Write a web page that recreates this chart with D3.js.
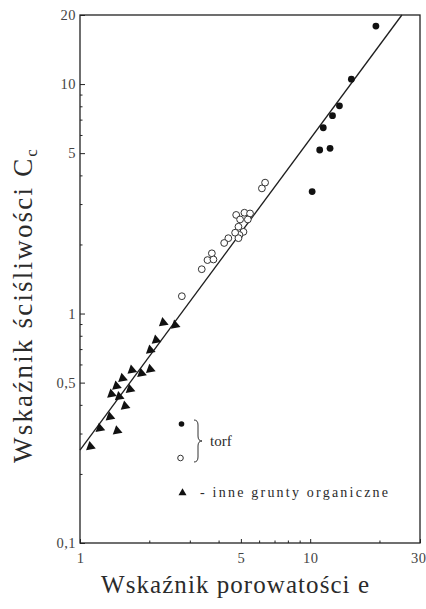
<!DOCTYPE html>
<html>
<head>
<meta charset="utf-8">
<script src="https://cdn.jsdelivr.net/npm/d3@7"></script>
<style>
  body { margin: 0; background: #fff; }
  svg text { font-family: "Liberation Serif", "DejaVu Serif", serif; fill: #2b2b2b; }
  .axis path, .axis line { stroke: #222; }
</style>
</head>
<body>
<svg id="chart"></svg>
<script>
// torf - punkty pełne
var eTorfFull  = [19.3, 15.1, 13.4, 12.5, 11.4, 11.0, 12.2, 10.2];
var ccTorfFull = [17.9, 10.5, 8.04, 7.28, 6.45, 5.16, 5.25, 3.40];
// torf - punkty puste
var eTorfOpen  = [6.37, 6.17, 4.77, 5.18, 5.48, 4.96, 5.36, 4.88, 5.13, 4.93, 4.72, 4.88, 4.41, 4.23, 3.74, 3.58, 3.80, 3.38, 2.77];
var ccTorfOpen = [3.72, 3.51, 2.69, 2.75, 2.73, 2.57, 2.57, 2.39, 2.27, 2.20, 2.25, 2.13, 2.13, 2.03, 1.83, 1.71, 1.72, 1.56, 1.19];
// inne grunty organiczne
var eInne  = [2.30, 2.59, 2.14, 2.02, 1.68, 1.85, 2.02, 1.53, 1.44, 1.65, 1.37, 1.48, 1.57, 1.35, 1.22, 1.45, 1.11];
var ccInne = [0.912, 0.891, 0.766, 0.693, 0.567, 0.549, 0.571, 0.522, 0.483, 0.467, 0.446, 0.434, 0.395, 0.355, 0.316, 0.308, 0.263];
// prosta regresji Cc = a * e^b
var fitA = 0.254, fitB = 1.356;

var xTicks = [1, 5, 10, 30];
var yTicks = [0.1, 0.5, 1, 5, 10, 20];
var xMinor = [2, 3, 4, 6, 7, 8, 9, 20];
var yMinor = [0.2, 0.3, 0.4, 0.6, 0.7, 0.8, 0.9, 2, 3, 4, 6, 7, 8, 9];

var svgWidth = 426, svgHeight = 609;
var margin = {left: 80, top: 15, right: 6, bottom: 66};
var width = svgWidth - margin.left - margin.right,
    height = svgHeight - margin.top - margin.bottom;

var svg = d3.select("#chart").attr("width", svgWidth).attr("height", svgHeight);
var g = svg.append("g").attr("transform", "translate(" + [margin.left, margin.top] + ")");

var x = d3.scaleLog().domain([1, 30]).range([0, width]);
var y = d3.scaleLog().domain([0.1, 20]).range([height, 0]);

var plLocale = d3.formatLocale({decimal: ",", thousands: " ", grouping: [3], currency: ["", ""]});
var fmt = plLocale.format("~g");

// ramka
g.append("rect")
  .attr("width", width).attr("height", height)
  .style("fill", "none").style("stroke", "#222").style("stroke-width", 1.3);

// osie - główne podziałki (do środka)
var xAxis = g.append("g").classed("axis", true)
  .attr("transform", "translate(0," + height + ")")
  .call(d3.axisBottom(x).tickValues(xTicks).tickFormat(fmt).tickSizeInner(-4).tickSizeOuter(0).tickPadding(10));
g.append("g").classed("axis", true)
  .call(d3.axisLeft(y).tickValues(yTicks).tickFormat(fmt).tickSizeInner(-5).tickSizeOuter(0).tickPadding(4));

// drobne podziałki
g.append("g").classed("axis", true)
  .attr("transform", "translate(0," + height + ")")
  .call(d3.axisBottom(x).tickValues(xMinor).tickFormat("").tickSizeInner(-2.5).tickSizeOuter(0));
g.append("g").classed("axis", true)
  .call(d3.axisLeft(y).tickValues(yMinor).tickFormat("").tickSizeInner(-2.5).tickSizeOuter(0));

svg.selectAll(".axis path").remove();
svg.selectAll(".axis text")
  .style("font-size", "14.5px").style("font-family", "Liberation Serif, serif")
  .style("fill", "#444").style("letter-spacing", "0.5px");
// ostatnia etykieta przy samej krawędzi
xAxis.selectAll(".tick").filter(function(d){ return d === 30; }).select("text")
  .attr("text-anchor", "end").attr("x", 6);

// prosta regresji
var eEnd = Math.pow(20 / fitA, 1 / fitB);
var fitData = [1, eEnd].map(function(e){ return [e, fitA * Math.pow(e, fitB)]; });
g.append("path")
  .attr("d", d3.line().x(function(d){ return x(d[0]); }).y(function(d){ return y(d[1]); })(fitData))
  .style("fill", "none").style("stroke", "#1e1e1e").style("stroke-width", 1.3);

// punkty
var tri = d3.symbol().type(d3.symbolTriangle).size(42);
g.append("g").classed("inne", true)
  .selectAll("path")
  .data(eInne.map(function(e, i){ return [e, ccInne[i]]; }))
  .enter().append("path")
    .attr("d", tri)
    .attr("transform", function(d){ return "translate(" + [x(d[0]), y(d[1])] + ") rotate(110)"; })
    .style("fill", "#111");

g.append("g").classed("torf-open", true)
  .selectAll("circle")
  .data(eTorfOpen.map(function(e, i){ return [e, ccTorfOpen[i]]; }))
  .enter().append("circle")
    .attr("cx", function(d){ return x(d[0]); })
    .attr("cy", function(d){ return y(d[1]); })
    .attr("r", 3.4)
    .style("fill", "#fff").style("stroke", "#333").style("stroke-width", 1);

g.append("g").classed("torf-full", true)
  .selectAll("circle")
  .data(eTorfFull.map(function(e, i){ return [e, ccTorfFull[i]]; }))
  .enter().append("circle")
    .attr("cx", function(d){ return x(d[0]); })
    .attr("cy", function(d){ return y(d[1]); })
    .attr("r", 3.4)
    .style("fill", "#111");

// legenda
var legend = svg.append("g").classed("legend", true);
legend.append("circle").attr("cx", 181.5).attr("cy", 424).attr("r", 2.8).style("fill", "#111");
legend.append("circle").attr("cx", 180.5).attr("cy", 458).attr("r", 2.8)
  .style("fill", "#fff").style("stroke", "#333").style("stroke-width", 1);
legend.append("path")
  .attr("d", "M194,420 Q198,420 198,425 L198,436 Q198,441 202,441 Q198,441 198,446 L198,457 Q198,462 194,462")
  .style("fill", "none").style("stroke", "#333").style("stroke-width", 1);
legend.append("text").attr("x", 210).attr("y", 446).style("font-size", "15px").text("torf");
legend.append("path")
  .attr("d", d3.symbol().type(d3.symbolTriangle).size(28))
  .attr("transform", "translate(182.5,493)")
  .style("fill", "#111");
legend.append("text").attr("x", 200).attr("y", 497).style("font-size", "14px")
  .attr("textLength", 188).attr("lengthAdjust", "spacing")
  .text("- inne grunty organiczne");

// tytuły osi
svg.append("text")
  .attr("x", 101).attr("y", 593)
  .attr("textLength", 268).attr("lengthAdjust", "spacing")
  .style("font-size", "25px")
  .text("Wskaźnik porowatości e");

var yTitle = svg.append("text")
  .attr("transform", "translate(32,463) rotate(-90)")
  .style("font-size", "27px").style("letter-spacing", "2.2px");
yTitle.append("tspan").text("Wskaźnik ściśliwości C");
yTitle.append("tspan").attr("dy", 5).style("font-size", "17px").text("c");
</script>
</body>
</html>
